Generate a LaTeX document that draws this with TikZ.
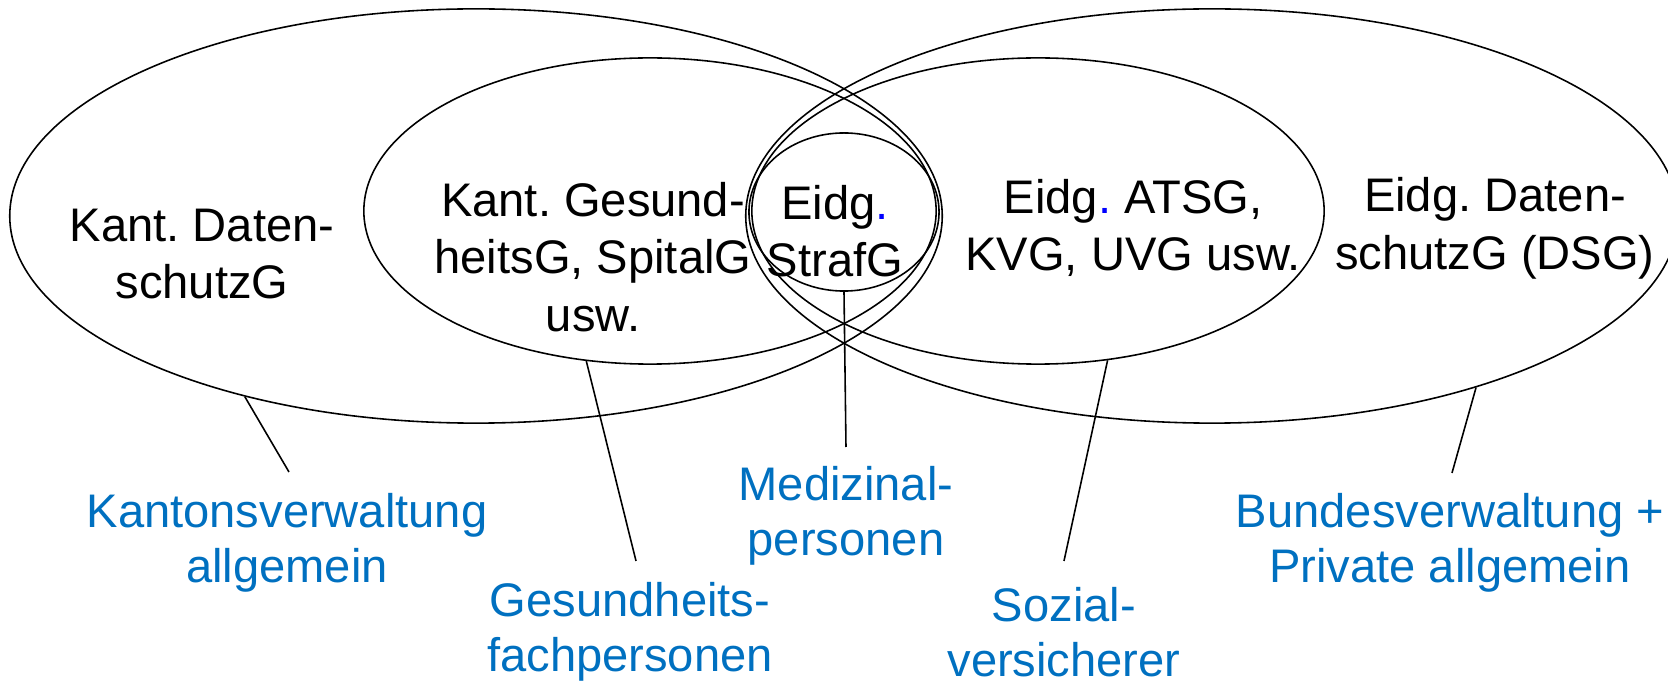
\documentclass[tikz,border=0pt]{standalone}
\usepackage{fontspec}
\setmainfont{Liberation Sans}
\usepackage{xcolor}
\usetikzlibrary{shapes,positioning}
\definecolor{grpblue}{RGB}{0,112,192}
\definecolor{dotblue}{RGB}{0,0,255}
\tikzset{ell/.style={ellipse,draw,inner sep=0pt,line width=0.45pt}}
\tikzset{law/.style={align=center,inner sep=0pt,font=\fontsize{13.4}{16.4}\selectfont}}
\tikzset{grp/.style={law,text=grpblue,font=\fontsize{13.4}{15.8}\selectfont}}
\newcommand{\bdot}{\textcolor{dotblue}{.}}
\frenchspacing

\begin{document}
\begin{tikzpicture}[x=0.01cm,y=-0.01cm,line width=0.45pt]
    \useasboundingbox (0,0) rectangle (1668,682);
    \node[ell,minimum width=9.32cm,minimum height=4.14cm] (kdsg) at (476,216) {};
    \node[ell,minimum width=5.72cm,minimum height=3.06cm] (kgg) at (650,211) {};
    \node[ell,minimum width=1.90cm,minimum height=1.58cm] (stg) at (844,212) {};
    \node[ell,minimum width=5.72cm,minimum height=3.06cm] (atsg) at (1038,211) {};
    \node[ell,minimum width=9.32cm,minimum height=4.14cm] (dsg) at (1212,216) {};

    \node[law] (t1) at (202,254) {Kant. Daten-\\schutzG};
    \node[law] (t2) at (593,257) {Kant. Gesund-\\heitsG, SpitalG\\usw.};
    \node[law] (t3) at (835,231) {Eidg\bdot\\StrafG};
    \node[law] (t4) at (1133,228) {Eidg\bdot{} ATSG,\\KVG, UVG usw.};
    \node[law] (t5) at (1495,228) {Eidg. Daten-\\schutzG (DSG)};

    \node[grp] (kv) at (287,543) {Kantonsverwaltung\\allgemein};
    \node[grp] (gf) at (630,632) {Gesundheits-\\fachpersonen};
    \node[grp] (mp) at (846,516) {Medizinal-\\personen};
    \node[grp] (sv) at (1064,632) {Sozial-\\versicherer};
    \node[grp] (bv) at (1450,543) {Bundesverwaltung +\\Private allgemein};

    \coordinate (kv-e) at (289,472);
    \coordinate (gf-e) at (636,561);
    \coordinate (mp-e) at (846,447);
    \coordinate (sv-e) at (1064,561);
    \coordinate (bv-e) at (1452,473);

    \draw [] (kdsg.218) to [] (kv-e);
    \draw [] (kgg.247) to [] (gf-e);
    \draw [] (stg.south) to [] (mp-e);
    \draw [] (atsg.295) to [] (sv-e);
    \draw [] (dsg.327) to [] (bv-e);
\end{tikzpicture}
\end{document}
